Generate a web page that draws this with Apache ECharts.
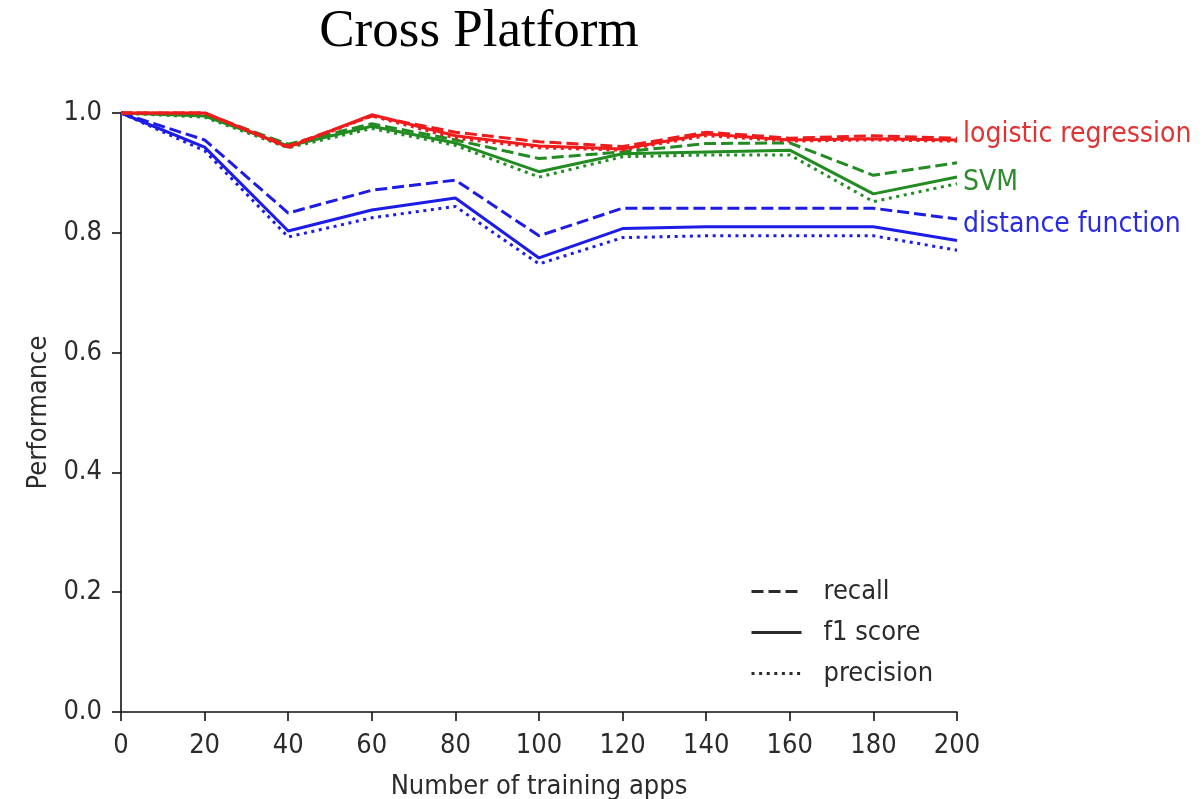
<!DOCTYPE html>
<html>
<head>
<meta charset="utf-8">
<script src="https://cdn.jsdelivr.net/npm/echarts@6/dist/echarts.min.js"></script>
<style>
html,body{margin:0;padding:0;background:#fff;}
#chart{width:1204px;height:799px;}
</style>
</head>
<body>
<div id="chart"></div>
<script>
const xValues = [0, 20, 40, 60, 80, 100, 120, 140, 160, 180, 200];

const lrRecall    = [1.000, 1.000, 0.945, 0.995, 0.968, 0.952, 0.944, 0.968, 0.958, 0.962, 0.958];
const lrF1        = [1.000, 1.000, 0.943, 0.997, 0.962, 0.945, 0.940, 0.965, 0.955, 0.957, 0.955];
const lrPrecision = [1.000, 1.000, 0.942, 0.995, 0.958, 0.942, 0.938, 0.962, 0.953, 0.955, 0.953];

const svmRecall    = [1.000, 0.998, 0.948, 0.982, 0.955, 0.924, 0.935, 0.949, 0.950, 0.896, 0.917];
const svmF1        = [1.000, 0.995, 0.945, 0.978, 0.950, 0.902, 0.932, 0.935, 0.938, 0.865, 0.893];
const svmPrecision = [1.000, 0.993, 0.942, 0.974, 0.946, 0.893, 0.927, 0.930, 0.930, 0.852, 0.882];

const dfRecall    = [1.000, 0.955, 0.833, 0.871, 0.888, 0.795, 0.841, 0.841, 0.841, 0.841, 0.823];
const dfF1        = [1.000, 0.943, 0.803, 0.838, 0.858, 0.758, 0.807, 0.810, 0.810, 0.810, 0.787];
const dfPrecision = [1.000, 0.937, 0.793, 0.825, 0.844, 0.748, 0.792, 0.795, 0.795, 0.795, 0.771];

const yTicks = [0.0, 0.2, 0.4, 0.6, 0.8, 1.0];
const groupNames = ['distance function', 'SVM', 'logistic regression'];
const metricNames = ['recall', 'f1 score', 'precision'];

const FONT = '"DejaVu Sans Condensed", "DejaVu Sans", sans-serif';
const RED = '#ee1c1c', GREEN = '#228b22', BLUE = '#1c1ce6';
const DASH = [12, 5], DOT = [3, 4.6];
const LW = 3;

function pairs(vals){ return xValues.map((x,i)=>[x, vals[i]]); }

function mk(vals, color, dash, label, labelColor, offset){
  const s = {
    type: 'line', data: pairs(vals), symbol: 'none', clip: false, silent: true,
    lineStyle: {color: color, width: LW, type: dash, cap: 'butt'},
    itemStyle: {color: color},
    emphasis: {disabled: true}, animation: false
  };
  if (label) {
    s.endLabel = {show: true, formatter: label, color: labelColor, fontFamily: FONT,
      fontSize: 28, distance: 6, offset: offset};
  }
  return s;
}

const series = [
  mk(dfRecall, BLUE, DASH, groupNames[0], '#2a2ae0', [0, 6]),
  mk(dfF1, BLUE, 'solid'),
  mk(dfPrecision, BLUE, DOT),
  mk(svmRecall, GREEN, DASH),
  mk(svmF1, GREEN, 'solid', groupNames[1], '#2e8b2e', [0, 6]),
  mk(svmPrecision, GREEN, DOT),
  mk(lrRecall, RED, DASH, groupNames[2], '#e03434', [0, -3]),
  mk(lrF1, RED, 'solid'),
  mk(lrPrecision, RED, DOT)
];
// legend-only series
[[metricNames[0], DASH], [metricNames[1], 'solid'], [metricNames[2], DOT]].forEach(([n, t]) => {
  series.push({name: n, type: 'line', data: [], symbol: 'none',
    lineStyle: {color: '#2b2b2b', width: LW, type: t}, itemStyle: {color: '#2b2b2b'}});
});

const chart = echarts.init(document.getElementById('chart'), null, {renderer: 'canvas'});
chart.setOption({
  backgroundColor: '#ffffff',
  animation: false,
  title: {
    text: 'Cross Platform', left: 474, top: 1, textAlign: 'center',
    textStyle: {fontFamily: '"Liberation Serif", "Times New Roman", serif', fontSize: 53,
      fontWeight: 'normal', color: '#000'}
  },
  grid: {left: 121, right: 247, top: 113, bottom: 87, containLabel: false, outerBoundsMode: 'none'},
  legend: {
    data: metricNames, orient: 'vertical', left: 745, top: 573,
    itemWidth: 50, itemHeight: 14, itemGap: 14,
    itemStyle: {opacity: 0},
    lineStyle: {width: LW, color: '#2b2b2b'},
    textStyle: {fontFamily: FONT, fontSize: 27, color: '#2b2b2b', padding: [0, 0, 0, 17]},
    selectedMode: false
  },
  xAxis: {
    type: 'value', min: 0, max: 200, interval: 20,
    name: 'Number of training apps', nameLocation: 'middle', nameGap: 61,
    nameTextStyle: {fontFamily: FONT, fontSize: 27, color: '#2b2b2b'},
    axisLine: {show: true, lineStyle: {color: '#111', width: 1.6}},
    axisTick: {show: true, length: 9, inside: false, lineStyle: {color: '#111', width: 1.6}},
    axisLabel: {fontFamily: FONT, fontSize: 27, color: '#2b2b2b', margin: 20},
    splitLine: {show: false}
  },
  yAxis: {
    type: 'value', min: 0, max: 1, interval: 0.2,
    name: 'Performance', nameLocation: 'middle', nameGap: 69,
    nameTextStyle: {fontFamily: FONT, fontSize: 27, color: '#2b2b2b'},
    axisLine: {show: true, lineStyle: {color: '#111', width: 1.6}},
    axisTick: {show: true, length: 9, inside: false, lineStyle: {color: '#111', width: 1.6}},
    axisLabel: {fontFamily: FONT, fontSize: 27, color: '#2b2b2b', margin: 19,
      formatter: v => yTicks.includes(Math.round(v*10)/10) ? v.toFixed(1) : ''},
    splitLine: {show: false}
  },
  series: series
});
</script>
</body>
</html>
